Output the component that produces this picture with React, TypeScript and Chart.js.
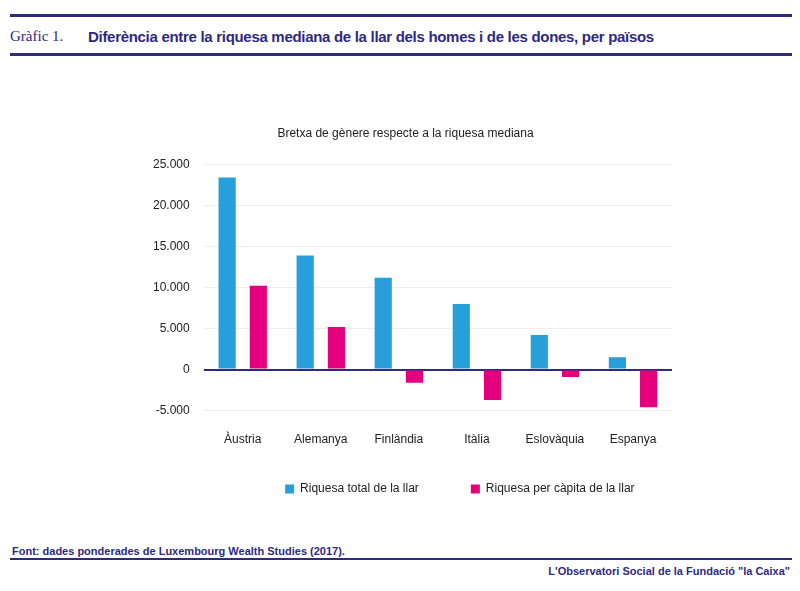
import React, { useEffect, useRef } from "react";
import { Chart, registerables } from "chart.js";
Chart.register(...registerables);

const categories = ["Àustria", "Alemanya", "Finlàndia", "Itàlia", "Eslovàquia", "Espanya"];
const total = [23400, 13900, 11200, 8000, 4200, 1500];
const perCapita = [10200, 5200, -1600, -3700, -900, -4600];
const seriesNames = ["Riquesa total de la llar", "Riquesa per càpita de la llar"];

const navy = "#2e2a7e";

const centerLegend = {
  id: "centerLegend",
  afterUpdate(chart: any) {
    const lg = chart.legend;
    if (!lg) return;
    const ca = chart.chartArea;
    const off = (ca.left + ca.right) / 2 - (lg.left + lg.right) / 2 + 22;
    lg.left += off;
    lg.right += off;
  },
};

export default function App() {
  const ref = useRef<HTMLCanvasElement>(null);
  useEffect(() => {
    const chart = new Chart(ref.current!, {
      type: "bar",
      data: {
        labels: categories,
        datasets: [
          { label: seriesNames[0], data: total, backgroundColor: "#279fda", barPercentage: 0.55, categoryPercentage: 0.8 },
          { label: seriesNames[1], data: perCapita, backgroundColor: "#e4007d", barPercentage: 0.55, categoryPercentage: 0.8 },
        ],
      },
      plugins: [centerLegend],
      options: {
        animation: false,
        responsive: false,
        layout: { padding: { left: 131, right: 120, top: 10, bottom: 0 } },
        plugins: {
          title: { display: true, text: "Bretxa de gènere respecte a la riquesa mediana", color: "#222", font: { family: "Liberation Sans", size: 12, weight: "normal" }, padding: { bottom: 24 } },
          legend: {
            position: "bottom",
            labels: {
              boxWidth: 9, boxHeight: 9, padding: 22, color: "#222", font: { family: "Liberation Sans", size: 12 },
              generateLabels: (ch: any) => {
                const items = Chart.defaults.plugins.legend.labels.generateLabels(ch);
                items[0].text = items[0].text + "         ";
                return items;
              },
            },
          },
          tooltip: { enabled: false },
        },
        scales: {
          x: {
            grid: { display: false },
            border: { display: false },
            ticks: { color: "#222", font: { family: "Liberation Sans", size: 12 }, padding: 14 },
          },
          y: {
            min: -5000, max: 25000,
            border: { display: false },
            grid: { color: (c: any) => (c.tick.value === 0 ? navy : "#eeeeee"), lineWidth: (c: any) => (c.tick.value === 0 ? 2 : 1), drawTicks: false },
            ticks: { stepSize: 5000, padding: 14, color: "#222", font: { family: "Liberation Sans", size: 12 }, callback: (v: any) => Number(v).toLocaleString("de-DE") },
          },
        },
      },
    });
    return () => chart.destroy();
  }, []);
  return (
    <div style={{ width: 784, fontFamily: "Liberation Sans, Arial", position: "relative", height: 575 }}>
      <div style={{ position: "absolute", left: 2, top: 6, width: 782, borderTop: `3px solid ${navy}` }} />
      <div style={{ position: "absolute", left: 2, top: 20, fontFamily: "Liberation Serif", fontSize: 15, color: navy }}>Gràfic 1.</div>
      <div style={{ position: "absolute", left: 80, top: 20, fontSize: 15, fontWeight: "bold", color: navy, letterSpacing: -0.3 }}>Diferència entre la riquesa mediana de la llar dels homes i de les dones, per països</div>
      <div style={{ position: "absolute", left: 2, top: 45, width: 782, borderTop: `3px solid ${navy}` }} />
      <canvas ref={ref} width={784} height={389} style={{ position: "absolute", left: 0, top: 108 }} />
      <div style={{ position: "absolute", left: 4, top: 537, fontSize: 11, fontWeight: "bold", color: navy }}>Font:  dades ponderades de Luxembourg Wealth Studies (2017).</div>
      <div style={{ position: "absolute", left: 2, top: 550, width: 782, borderTop: `2px solid ${navy}` }} />
      <div style={{ position: "absolute", right: 2, top: 557, fontSize: 11, fontWeight: "bold", color: navy }}>L'Observatori Social de la Fundació "la Caixa"</div>
    </div>
  );
}
